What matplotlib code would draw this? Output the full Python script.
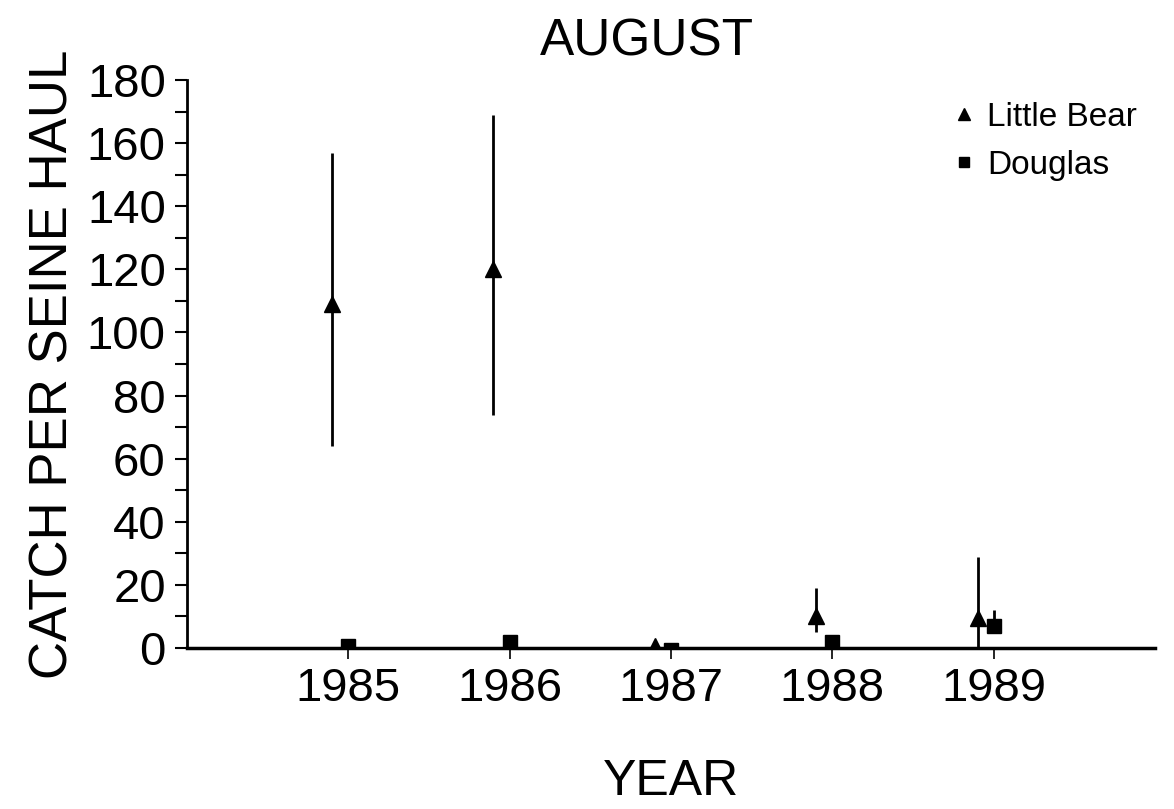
import matplotlib.pyplot as plt
from matplotlib.lines import Line2D
import numpy as np

plt.rcParams['font.family'] = ['Liberation Sans', 'DejaVu Sans']

years = [1985, 1986, 1987, 1988, 1989]
# Little Bear: mean and error range (low, high)
lb_mean = [109, 120, 0.5, 10, 9.5]
lb_low = [64, 74, 0.5, 5, 0]
lb_high = [157, 169, 0.5, 19, 29]
# Douglas
dg_mean = [0.5, 2, -0.5, 2, 7]
dg_low = [0.5, 2, -0.5, 2, 7]
dg_high = [0.5, 2, -0.5, 2, 12]

fig = plt.figure(figsize=(11.74, 8.09), dpi=100)
ax = fig.add_axes([0.159, 0.199, 0.825, 0.702])

x = np.array(years, dtype=float)
lb_mean = np.array(lb_mean)
dg_mean = np.array(dg_mean)
lb_err = [lb_mean - np.array(lb_low), np.array(lb_high) - lb_mean]
dg_err = [dg_mean - np.array(dg_low), np.array(dg_high) - dg_mean]

ax.errorbar(x - 0.1, lb_mean, yerr=lb_err, fmt='^', color='black', ms=12,
            elinewidth=2, capsize=0, zorder=3)
ax.errorbar(x, dg_mean, yerr=dg_err, fmt='s', color='black', ms=10,
            elinewidth=2, capsize=0, zorder=3)

ax.set_xlim(1984, 1990)
ax.set_ylim(0, 180)
ax.set_yticks(np.arange(0, 181, 20))
ax.set_yticks(np.arange(0, 181, 10), minor=True)
ax.set_xticks(years)
ax.set_xticklabels([str(y) for y in years])

ax.spines['top'].set_visible(False)
ax.spines['right'].set_visible(False)
ax.spines['left'].set_linewidth(2)
ax.spines['bottom'].set_linewidth(2.5)
ax.spines['bottom'].set_position(('data', 0))
ax.spines['left'].set_bounds(0, 180)

ax.tick_params(axis='y', which='major', length=9, width=1.5, labelsize=34, pad=6)
ax.tick_params(axis='y', which='minor', length=9, width=1.5)
ax.tick_params(axis='x', which='major', length=8, width=1.2, labelsize=34, pad=6)

ax.set_title('AUGUST', fontsize=37, pad=18, x=0.475)
ax.set_xlabel('YEAR', fontsize=36, labelpad=34)
ax.set_ylabel('CATCH PER SEINE HAUL', fontsize=38, labelpad=6)

handles = [
    Line2D([], [], ls='none', marker='^', color='black', ms=8),
    Line2D([], [], ls='none', marker='s', color='black', ms=7),
]
ax.legend(handles, ['Little Bear', 'Douglas'], loc='upper right', frameon=False,
          fontsize=24, handletextpad=0.2, handlelength=1.0,
          borderaxespad=0.0, bbox_to_anchor=(0.995, 0.985))

fig.savefig('out.png', dpi=100, facecolor='white')
